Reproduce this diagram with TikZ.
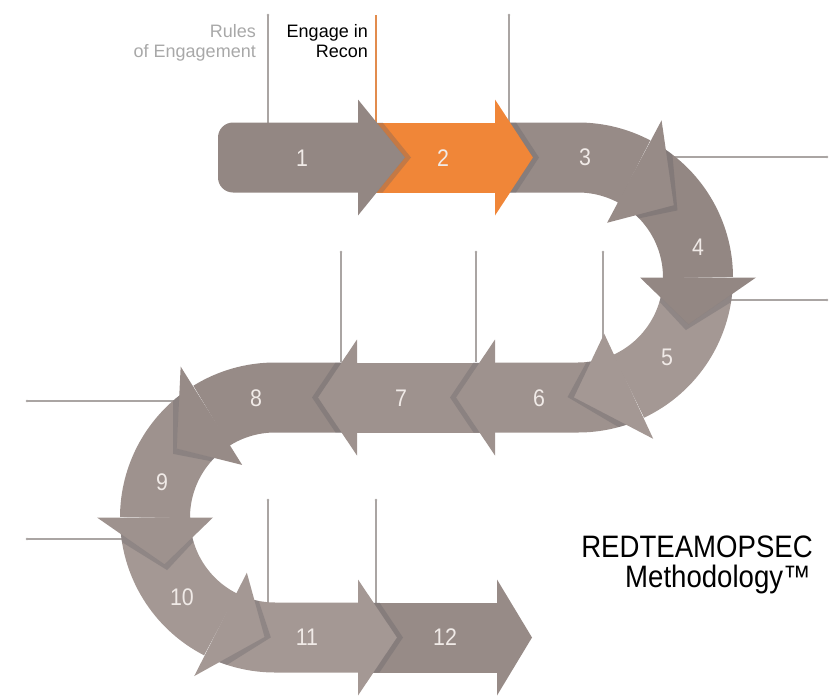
\documentclass[tikz,border=0pt]{standalone}
\usepackage{fontspec}
\setmainfont{Liberation Sans}
\newfontfamily\narrowfont[FakeStretch=0.89]{Liberation Sans}
\definecolor{stepred}{RGB}{240,134,56}
\definecolor{gA}{RGB}{147,135,131}
\definecolor{gB}{RGB}{151,139,135}
\definecolor{gC}{RGB}{158,146,142}
\definecolor{gD}{RGB}{164,152,148}
\definecolor{shadegrey}{RGB}{96,94,100}
\definecolor{leadgrey}{RGB}{170,165,163}
\definecolor{rulegrey}{RGB}{168,168,168}
\definecolor{numwhite}{RGB}{240,234,231}

\begin{document}
\begin{tikzpicture}[x=1pt,y=-1pt,
    band/.style={line width=70pt},
    leader/.style={line width=1.1pt,draw=leadgrey},
    sliver/.style={fill=shadegrey,fill opacity=0.3},
    num/.style={font=\narrowfont\fontsize{24}{24}\selectfont,text=numwhite,inner sep=0pt},
    tag/.style={font=\fontsize{18}{20}\selectfont,align=right,anchor=north east,inner sep=0pt}]
    \useasboundingbox (0,0) rectangle (830,696);
    \coordinate (R) at (578,277.5);
    \coordinate (L) at (275,517.5);
    % leader lines
    \foreach \i/\a/\b/\c/\d in {1/268/15/268/123, 3/509/15/509/123,
        4/827/157/674/157, 5/827/300/731/300,
        6/341/252/341/362, 7/476/252/476/362, 8/603/252/603/360,
        9/27/401/175/401, 10/27/539/122/539,
        11/268/500/268/603, 12/376/500/376/603} {
        \coordinate (lt\i) at (\a,\b);
        \coordinate (lb\i) at (\c,\d);
        \draw[leader] (lt\i) -- (lb\i);
        \fill[leadgrey] (lt\i) circle (1.4);
    }
    \coordinate (lt2) at (376,15);
    \coordinate (lb2) at (376,123);
    \draw[leader,draw=stepred!80!leadgrey] (lt2) -- (lb2);
    % steps 12 .. 1, back to front
    \draw[band,gB] (358,637.5) -- (497,637.5);
    \fill[gB] (497,579.5) -- (532,637.5) -- (497,695.5) -- cycle;
    \draw[band,gD] ([shift={(117:120)}]L) arc[start angle=117,end angle=90,radius=120] -- (358,637.5);
    \fill[gD] (358,579.5) -- (397,637.5) -- (358,695.5) -- cycle;
    \draw[band,gD] ([shift={(180:120)}]L) arc[start angle=180,end angle=117,radius=120];
    \fill[gD] ([shift={(117:178)}]L) -- ([shift={(95:120)}]L) -- ([shift={(117:62)}]L) -- cycle;
    \draw[band,gC] ([shift={(238:120)}]L) arc[start angle=238,end angle=180,radius=120];
    \fill[gC] ([shift={(180:178)}]L) -- ([shift={(157:120)}]L) -- ([shift={(180:62)}]L) -- cycle;
    \draw[band,gB] (357,397.5) -- (275,397.5) arc[start angle=270,end angle=238,radius=120];
    \fill[gB] ([shift={(238:178)}]L) -- ([shift={(215:120)}]L) -- ([shift={(238:62)}]L) -- cycle;
    \draw[band,gC] (495,397.5) -- (357,397.5);
    \fill[gC] (357,339.5) -- (318,397.5) -- (357,455.5) -- cycle;
    \draw[band,gC] ([shift={(65:120)}]R) arc[start angle=65,end angle=90,radius=120] -- (495,397.5);
    \fill[gC] (495,339.5) -- (456,397.5) -- (495,455.5) -- cycle;
    \draw[band,gD] ([shift={(0:120)}]R) arc[start angle=0,end angle=65,radius=120];
    \fill[gD] ([shift={(65:178)}]R) -- ([shift={(92:120)}]R) -- ([shift={(65:62)}]R) -- cycle;
    \draw[band,gA] ([shift={(-62:120)}]R) arc[start angle=-62,end angle=0,radius=120];
    \fill[gA] ([shift={(0:178)}]R) -- ([shift={(23:120)}]R) -- ([shift={(0:62)}]R) -- cycle;
    \draw[band,gB] (495,157.5) -- (578,157.5) arc[start angle=-90,end angle=-62,radius=120];
    \fill[gB] ([shift={(-62:178)}]R) -- ([shift={(-37:120)}]R) -- ([shift={(-62:62)}]R) -- cycle;
    \draw[band,stepred] (358,157.5) -- (495,157.5);
    \fill[stepred] (495,99.5) -- (533,157.5) -- (495,215.5) -- cycle;
    \fill[gA] (358,122.5) -- (233,122.5) arc[start angle=-90,end angle=-180,radius=15]
        -- (218,177.5) arc[start angle=180,end angle=90,radius=15] -- (358,192.5) -- cycle;
    \fill[gA] (358,99.5) -- (405,157.5) -- (358,215.5) -- cycle;
    % shadow in front of each head, kept inside the band
    \begin{scope}
        \clip (200,122.5) -- (578,122.5) arc[start angle=-90,end angle=90,radius=155]
            -- (275,432.5) arc[start angle=270,end angle=90,radius=85]
            -- (560,602.5) -- (560,672.5) -- (275,672.5) arc[start angle=90,end angle=270,radius=155]
            -- (578,362.5) arc[start angle=90,end angle=-90,radius=85] -- (200,192.5) -- cycle;
        \foreach \b/\t/\y/\s in {358/405/157.5/6, 495/533/157.5/6, 495/456/397.5/-6,
            357/318/397.5/-6, 358/397/637.5/6}
            \fill[sliver] (\b,\y-58) -- (\t,\y) -- (\b,\y+58) -- (\b+\s,\y+58) -- (\t+\s,\y) -- (\b+\s,\y-58) -- cycle;
        \foreach \c/\b/\t/\d in {R/-62/-37/3, R/0/23/3, R/65/92/3, L/238/215/-3, L/180/157/-3, L/117/95/-3}
            \fill[sliver] ([shift={(\b:178)}]\c) -- ([shift={(\t:120)}]\c) -- ([shift={(\b:62)}]\c)
                -- ([shift={(\b+\d:62)}]\c) -- ([shift={(\t+\d:120)}]\c) -- ([shift={(\b+\d:178)}]\c) -- cycle;
    \end{scope}
    % step numbers
    \foreach \n/\x/\y in {1/302/158, 2/443/158, 3/585/157, 4/698/247, 5/667/357, 6/539/398,
        7/401/398, 8/256/398, 9/162/482, 10/182/597, 11/307/637, 12/445/637}
        \node[num] (num\n) at (\x,\y) {\n};
    % labels
    \node[tag,text=rulegrey] (rules) at (256,24) {Rules\\of Engagement};
    \node[tag] (recon) at (368,24) {Engage in\\Recon};
    \node[font=\narrowfont\fontsize{31}{31}\selectfont,anchor=base east,inner sep=0pt] (brand) at (813,557) {REDTEAMOPSEC};
    \node[font=\narrowfont\fontsize{31}{31}\selectfont,anchor=base east,inner sep=0pt] (method) at (811,587) {Methodology™};
\end{tikzpicture}
\end{document}
